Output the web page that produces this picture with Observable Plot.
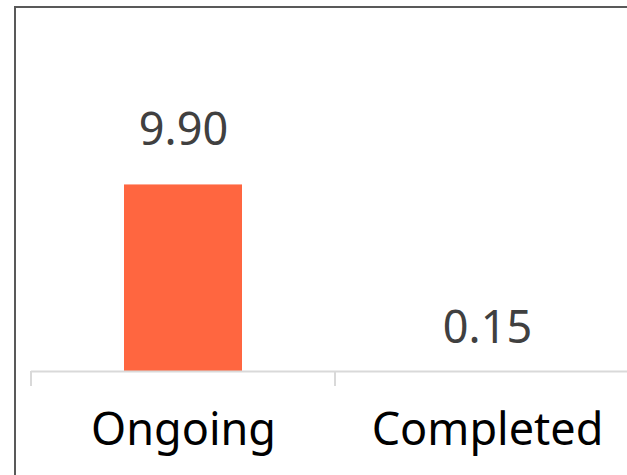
<!DOCTYPE html>
<html>
<head>
<meta charset="utf-8">
<script src="https://cdn.jsdelivr.net/npm/d3@7"></script>
<script src="https://cdn.jsdelivr.net/npm/@observablehq/plot@0.6"></script>
<style>
  html, body { margin: 0; padding: 0; background: #fff; overflow: hidden; width: 627px; height: 475px; }
  #frame { position: absolute; left: 14px; top: 6px; width: 800px; height: 600px; border: 2px solid #595959; box-sizing: border-box; }
  #chart { position: absolute; left: 0; top: 0; }
  #chart svg { overflow: visible; background: transparent; }
</style>
</head>
<body>
<div id="frame"></div>
<div id="chart"></div>
<script>
// Project status counts
const categories = ["Ongoing", "Completed"];
const values = [9.90, 0.15];

const data = categories.map((c, i) => ({category: c, value: values[i]}));

const FONT = "'Noto Sans', 'Open Sans', sans-serif";
const yMin = 0.67;

// Boundary ticks drawn between categories (at band edges, not centers)
function bandEdgeTicks(index, scales, values, dimensions) {
  const x = scales.x, y = scales.y;
  const step = x.step();
  const half = (step - x.bandwidth()) / 2;
  const base = y(yMin);
  const g = d3.create("svg:g");
  const edges = [];
  categories.forEach((c, i) => {
    const start = x(c) - half;
    if (i === 0) edges.push(start);
    edges.push(start + step);
  });
  for (const ex of edges) {
    g.append("line")
      .attr("x1", ex).attr("x2", ex)
      .attr("y1", base).attr("y2", base + 15)
      .attr("stroke", "#d9d9d9")
      .attr("stroke-width", 2);
  }
  return g.node();
}

const plot = Plot.plot({
  width: 627,
  height: 475,
  marginLeft: 31,
  marginRight: -12,
  marginTop: 142,
  marginBottom: 104,
  style: {fontFamily: FONT, background: "transparent"},
  x: {domain: categories, paddingInner: 0.612, paddingOuter: 0.306, label: null},
  y: {domain: [yMin, 12], axis: null},
  marks: [
    Plot.barY(data, {x: "category", y1: 0, y2: "value", fill: "#FF6640", clip: true}),
    Plot.ruleY([yMin], {stroke: "#d9d9d9", strokeWidth: 2}),
    bandEdgeTicks,
    Plot.text(data, {
      x: "category", y: "value",
      text: d => d.value.toFixed(2),
      lineAnchor: "bottom", dy: -39.5,
      fontSize: 45, fill: "#404040", fontFamily: FONT
    }),
    Plot.axisX({
      tickSize: 0, tickPadding: 42, fontSize: 45,
      color: "#000", fontFamily: FONT
    })
  ]
});

document.getElementById("chart").appendChild(plot);
</script>
</body>
</html>
